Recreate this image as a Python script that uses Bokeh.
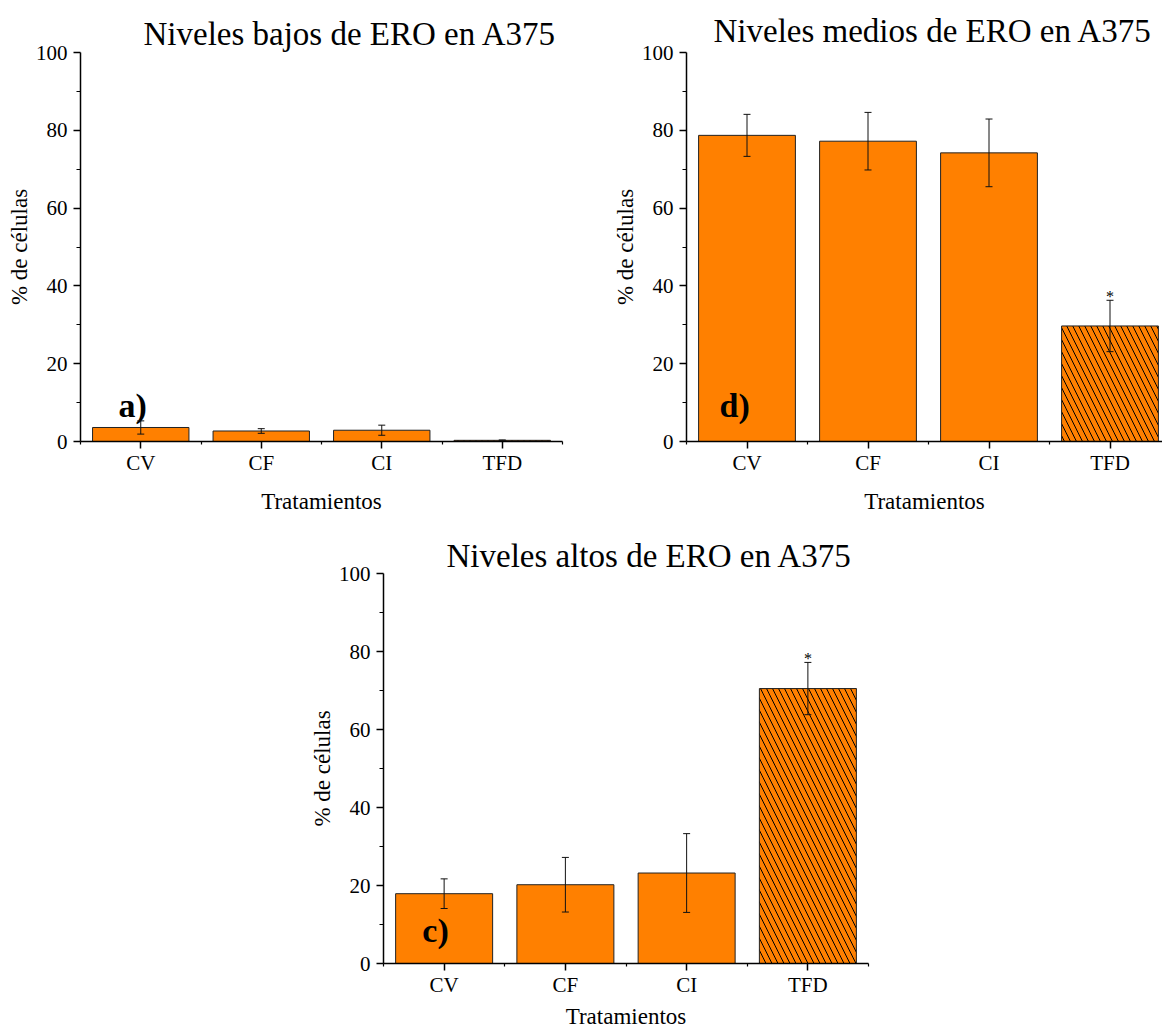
from bokeh.plotting import figure
from bokeh.models import Range1d, FixedTicker, Label, Whisker, TeeHead, ColumnDataSource, Spacer
from bokeh.layouts import row, column
from bokeh.embed import file_html
from bokeh.resources import INLINE
from bokeh.core.properties import value

categories = ["CV", "CF", "CI", "TFD"]
low_mean = [3.6, 2.7, 2.9, 0.3]
low_err = [1.7, 0.6, 1.3, 0.1]
low_sig = [False, False, False, False]
mid_mean = [78.7, 77.2, 74.2, 29.7]
mid_err = [5.4, 7.4, 8.7, 6.6]
mid_sig = [False, False, False, True]
high_mean = [17.9, 20.2, 23.2, 70.5]
high_err = [3.8, 7.0, 10.1, 6.7]
high_sig = [False, False, False, True]
hatched = [False, False, False, True]
y_ticks = [0, 20, 40, 60, 80, 100]
y_minor = [10, 30, 50, 70, 90]

FONT = "Liberation Serif"
ORANGE = "#FF8000"


def make_panel(title, means, errs, sig, width, height, borders, x_end,
               title_offset, title_standoff, tag, tag_xy,
               xlabel_standoff, ylabel_standoff):
    left, right, top, bottom = borders
    p = figure(width=width, height=height, output_backend="svg",
               toolbar_location=None, x_range=Range1d(0.5, x_end),
               y_range=Range1d(0, 100),
               min_border_left=left, min_border_right=right,
               min_border_top=top, min_border_bottom=bottom)
    p.outline_line_color = None
    p.xgrid.visible = False
    p.ygrid.visible = False
    p.background_fill_color = "white"
    p.border_fill_color = "white"

    p.title.text = title
    p.title.align = "left"
    p.title.offset = title_offset
    p.title.standoff = title_standoff
    p.title.text_font = FONT
    p.title.text_font_size = "33px"
    p.title.text_font_style = "normal"
    p.title.text_color = "black"

    xs = [i + 1 for i in range(len(categories))]
    src = ColumnDataSource(dict(
        x=xs,
        top=means,
        upper=[m + e for m, e in zip(means, errs)],
        lower=[m - e for m, e in zip(means, errs)],
        hatch=["\\" if h else " " for h in hatched],
    ))
    p.vbar(x="x", top="top", bottom=0, width=0.8, source=src,
           fill_color=ORANGE, line_color="#222222", line_width=1,
           hatch_pattern="hatch", hatch_color="black", hatch_scale=12,
           hatch_weight=1)

    wh = Whisker(base="x", upper="upper", lower="lower", source=src,
                 line_color="#111111", line_width=1, level="overlay",
                 upper_head=TeeHead(size=7, line_color="#111111", line_width=1),
                 lower_head=TeeHead(size=7, line_color="#111111", line_width=1))
    p.add_layout(wh)

    sig_x = [x for x, s in zip(xs, sig) if s]
    sig_y = [m + e for m, e, s in zip(means, errs, sig) if s]
    if sig_x:
        p.text(x=sig_x, y=sig_y, text=["*"] * len(sig_x), text_align="center",
               text_baseline="alphabetic", y_offset=-4,
               text_font=value(FONT), text_font_size="16px", text_color="black")

    p.add_layout(Label(x=tag_xy[0], y=tag_xy[1], text=tag, text_font=FONT,
                       text_font_style="bold", text_font_size="34px",
                       text_baseline="alphabetic", text_align="left",
                       text_color="black"))

    xa = p.xaxis[0]
    xa.ticker = FixedTicker(ticks=xs, minor_ticks=[x - 0.5 for x in xs] + [xs[-1] + 0.5])
    xa.major_label_overrides = {x: c for x, c in zip(xs, categories)}
    xa.axis_label = "Tratamientos"
    xa.axis_label_standoff = xlabel_standoff

    ya = p.yaxis[0]
    ya.ticker = FixedTicker(ticks=y_ticks, minor_ticks=y_minor)
    ya.axis_label = "% de células"
    ya.axis_label_standoff = ylabel_standoff
    ya.major_label_standoff = 6

    for ax in (xa, ya):
        ax.axis_line_color = "black"
        ax.axis_line_width = 1.5
        ax.major_tick_line_color = "black"
        ax.major_tick_line_width = 1.5
        ax.minor_tick_line_color = "black"
        ax.minor_tick_line_width = 1.2
        ax.major_tick_in = 0
        ax.major_tick_out = 7
        ax.minor_tick_in = 0
        ax.minor_tick_out = 4
        ax.major_label_text_font = FONT
        ax.major_label_text_font_size = "21px"
        ax.major_label_text_color = "black"
        ax.axis_label_text_font = FONT
        ax.axis_label_text_font_size = "23px"
        ax.axis_label_text_font_style = "normal"
        ax.axis_label_text_color = "black"
    xa.minor_tick_out = 3
    xa.major_label_standoff = 2
    return p


pa = make_panel("Niveles bajos de ERO en A375", low_mean, low_err, low_sig,
                600, 525, (80, 38, 52, 84), 4.5, 63, 1, "a)", (0.815, 9.3), 11, 1)
pd_ = make_panel("Niveles medios de ERO en A375", mid_mean, mid_err, mid_sig,
                 562, 525, (86, 0, 52, 84), 0.5 + 476 / 121, 27, 7, "d)", (0.773, 9.3), 11, 1)
pc = make_panel("Niveles altos de ERO en A375", high_mean, high_err, high_sig,
                591, 508, (86, 20, 48, 70), 4.5, 63, 0, "c)", (0.82, 8.4), 4, 1)

layout = column(row(pa, pd_), row(Spacer(width=297, height=508), pc))

open("out.html", "w").write(file_html(layout, INLINE))
